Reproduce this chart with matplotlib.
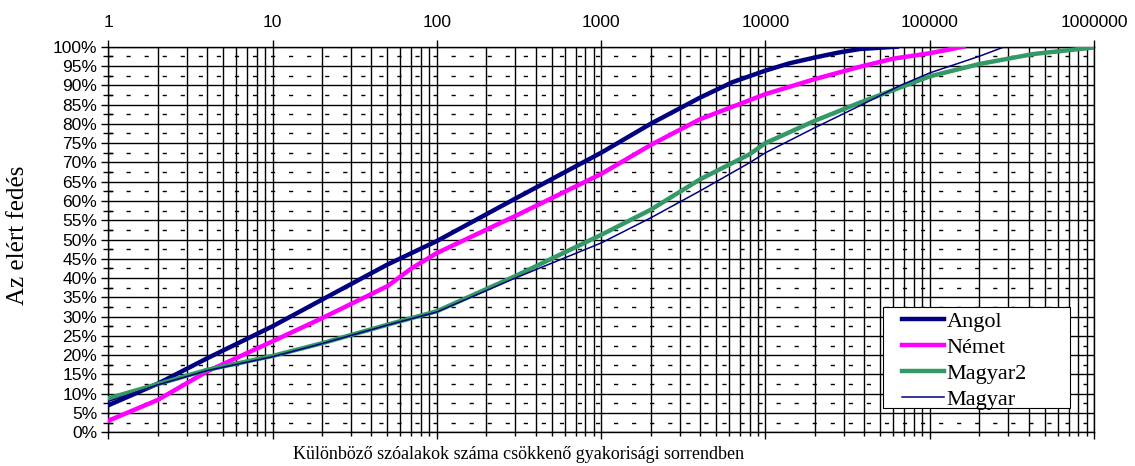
import numpy as np
import matplotlib.pyplot as plt
from matplotlib.patches import Rectangle
from matplotlib.ticker import FixedLocator, FuncFormatter, LogLocator, MultipleLocator, NullFormatter

# word forms ranked by frequency vs. cumulative coverage (%)
angol_x = [1, 2, 4, 10, 20, 50, 100, 300, 1000, 2000, 4000, 6300, 10000, 14000, 20000, 28000, 37600, 63000]
angol_y = [7.0, 12.6, 19.2, 27.5, 34.4, 43.5, 49.6, 60.6, 72.5, 80.0, 86.8, 90.8, 93.8, 95.7, 97.2, 98.5, 99.4, 100]

nemet_x = [1, 2, 4, 10, 20, 50, 70, 100, 300, 1000, 2000, 4000, 10000, 20000, 37600, 60000, 100000, 160000]
nemet_y = [3.0, 8.4, 15.8, 23.6, 29.6, 37.9, 42.5, 46.5, 56.1, 67.0, 74.5, 81.2, 87.7, 91.6, 94.8, 96.9, 98.3, 100]

magyar2_x = [1, 2, 4, 10, 20, 50, 100, 300, 1000, 2000, 4000, 8000, 10000, 20000, 37600, 100000, 200000, 427000, 1000000]
magyar2_y = [8.8, 12.5, 16.2, 19.8, 23.1, 27.9, 31.4, 40.5, 51.2, 57.7, 65.6, 72.1, 75.0, 80.8, 85.5, 92.3, 95.5, 98.1, 99.8]

magyar_x = [1, 2, 4, 10, 20, 50, 100, 300, 1000, 2000, 4000, 8000, 10000, 20000, 37600, 65800, 100000, 200000, 286000]
magyar_y = [8.0, 12.3, 16.0, 19.6, 23.0, 27.8, 31.2, 40.0, 49.1, 55.6, 62.6, 69.9, 72.5, 79.0, 84.7, 89.9, 93.2, 97.5, 100]

fig = plt.figure(figsize=(11.35, 4.66), dpi=100)
ax = fig.add_axes([0.0954, 0.0723, 0.8685, 0.8275])

ax.plot(angol_x, angol_y, color='#000080', lw=3.2, label='Angol', zorder=3)
ax.plot(nemet_x, nemet_y, color='#FF00FF', lw=3.2, label='Német', zorder=3)
ax.plot(magyar2_x, magyar2_y, color='#339966', lw=3.2, label='Magyar2', zorder=3)
ax.plot(magyar_x, magyar_y, color='#000080', lw=1.1, label='Magyar', zorder=4)

ax.set_xscale('log')
ax.set_xlim(1, 1e6)
ax.set_ylim(0, 100)

# x axis: labels on top, solid grid at every log step
ax.xaxis.set_major_locator(FixedLocator([1, 10, 100, 1000, 10000, 100000, 1000000]))
ax.xaxis.set_major_formatter(FuncFormatter(lambda v, p: '%d' % v))
ax.xaxis.set_minor_locator(LogLocator(base=10, subs=np.arange(2, 10), numticks=20))
ax.xaxis.set_minor_formatter(NullFormatter())
ax.tick_params(axis='x', which='major', top=True, bottom=True, labeltop=True, labelbottom=False,
               direction='out', length=5, width=1, pad=7, labelsize=12.5)
ax.tick_params(axis='x', which='minor', top=False, bottom=True, direction='out', length=3, width=1)
ax.grid(True, axis='x', which='both', color='black', lw=1.0, ls='-')

# y axis: solid every 5%, dashed in between
ax.yaxis.set_major_locator(MultipleLocator(5))
ax.yaxis.set_minor_locator(MultipleLocator(2.5))
ax.yaxis.set_major_formatter(FuncFormatter(lambda v, p: '%d%%' % v))
ax.tick_params(axis='y', which='major', direction='out', length=5, width=1, labelsize=12.5, pad=3)
ax.tick_params(axis='y', which='minor', direction='inout', length=7, width=1)
ax.grid(True, axis='y', which='major', color='black', lw=1.0, ls='-')
ax.grid(True, axis='y', which='minor', color='black', lw=1.0, ls=(0, (3, 10)))
ax.set_axisbelow(True)

for sp in ax.spines.values():
    sp.set_linewidth(1.0)

for lbl in ax.get_xticklabels() + ax.get_yticklabels():
    lbl.set_family(['Liberation Sans', 'DejaVu Sans'])

ax.set_xlabel('Különböző szóalakok száma csökkenő gyakorisági sorrendben',
              family='Liberation Serif', fontsize=13)
ax.xaxis.set_label_coords(0.4167, -0.035)
ax.set_ylabel('Az elért fedés', family='Liberation Serif', fontsize=18)
ax.yaxis.set_label_coords(-0.080, 0.51)

# legend frame drawn separately so it can be wider than its contents
ax.add_patch(Rectangle((0.786, 0.063), 0.1897, 0.262, transform=ax.transAxes,
                       facecolor='white', edgecolor='black', lw=0.8, zorder=5))
leg = ax.legend(loc='upper left', bbox_to_anchor=(0.8052, 0.3138), borderaxespad=0,
                frameon=False, handlelength=1.9, handletextpad=0.1, labelspacing=0.24,
                borderpad=0, prop={'family': 'Liberation Serif', 'size': 16})
leg.set_zorder(6)

fig.savefig('out.png', dpi=100)
